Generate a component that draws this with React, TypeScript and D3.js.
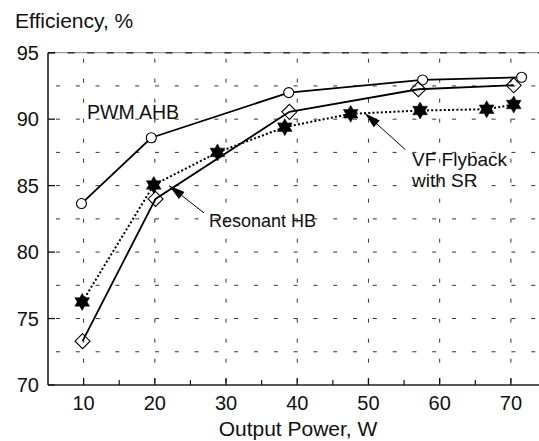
import React from "react";
import * as d3 from "d3";

const pwmX = [9.7, 19.5, 38.8, 57.6, 71.5];
const pwmY = [83.65, 88.6, 92.0, 92.95, 93.15];
const resX = [9.85, 20.1, 38.9, 57.0, 70.4];
const resY = [73.3, 84.0, 90.55, 92.25, 92.55];
const vfX = [9.8, 19.85, 28.8, 38.25, 47.5, 57.25, 66.6, 70.4];
const vfY = [76.25, 85.05, 87.5, 89.4, 90.4, 90.65, 90.75, 91.1];

const xTicks = [10, 20, 30, 40, 50, 60, 70];
const xMinor = [15, 25, 35, 45, 55, 65];
const yTicks = [70, 75, 80, 85, 90, 95];
const yGrid = [72.5, 75, 77.5, 80, 82.5, 85, 87.5, 90, 92.5];

const W = 539;
const H = 441;
const FONT = "'Liberation Sans', Arial, sans-serif";

function hexagram(cx: number, cy: number, R: number) {
  const r = R / Math.sqrt(3);
  const p = d3.path();
  for (let k = 0; k < 12; k++) {
    const a = ((-90 + k * 30) * Math.PI) / 180;
    const rr = k % 2 === 0 ? R : r;
    const px = cx + rr * Math.cos(a);
    const py = cy + rr * Math.sin(a);
    if (k === 0) p.moveTo(px, py);
    else p.lineTo(px, py);
  }
  p.closePath();
  return p.toString();
}

function arrowHead(x1: number, y1: number, x2: number, y2: number, len: number, half: number) {
  const dx = x2 - x1;
  const dy = y2 - y1;
  const d = Math.hypot(dx, dy);
  const ux = dx / d;
  const uy = dy / d;
  const bx = x2 - ux * len;
  const by = y2 - uy * len;
  const p = d3.path();
  p.moveTo(x2, y2);
  p.lineTo(bx - uy * half, by + ux * half);
  p.lineTo(bx + uy * half, by - ux * half);
  p.closePath();
  return p.toString();
}

export default function App() {
  const x = d3.scaleLinear().domain([5, 75]).range([48, 546.5]);
  const y = d3.scaleLinear().domain([70, 95]).range([385, 52.7]);
  const x0 = x(5);
  const x1 = W;
  const yTop = y(95);
  const yBot = y(70);

  const line = d3
    .line<[number, number]>()
    .x((d) => x(d[0]))
    .y((d) => y(d[1]));

  const pwm = pwmX.map((v, i) => [v, pwmY[i]] as [number, number]);
  const res = resX.map((v, i) => [v, resY[i]] as [number, number]);
  const vf = vfX.map((v, i) => [v, vfY[i]] as [number, number]);

  const resTip: [number, number] = [x(22.0), y(85.0)];
  const resTail: [number, number] = [x(26.9), y(82.95)];
  const vfTip: [number, number] = [x(49.5), y(90.45)];
  const vfTail: [number, number] = [x(55.2), y(87.7)];

  return (
    <svg width={W} height={H} style={{ position: "absolute", left: 0, top: 0 }} fontFamily={FONT}>
      <rect width={W} height={H} fill="white" />
      {yGrid.map((v) => (
        <line key={"hg" + v} x1={x0} x2={x1} y1={y(v)} y2={y(v)} stroke="#333" strokeWidth={1} strokeDasharray="4,15.8" strokeDashoffset={-8} />
      ))}
      {xTicks.map((v) => (
        <line key={"vg" + v} x1={x(v)} x2={x(v)} y1={yTop} y2={yBot} stroke="#333" strokeWidth={1} strokeDasharray="4,16" strokeDashoffset={-6} />
      ))}
      <line x1={x0} x2={x1} y1={yTop} y2={yTop} stroke="#999" strokeWidth={1.2} />
      <line x1={x0} x2={x1} y1={yTop} y2={yTop} stroke="#333" strokeWidth={1.6} strokeDasharray="7,12.6" />
      <line x1={x0} x2={x1} y1={yBot} y2={yBot} stroke="#222" strokeWidth={1.5} />
      <line x1={x0} x2={x0} y1={yTop} y2={yBot} stroke="#111" strokeWidth={1.5} />
      {yTicks.map((v) => (
        <line key={"yt" + v} x1={x0} x2={x0 + 7} y1={y(v)} y2={y(v)} stroke="#111" strokeWidth={1.3} />
      ))}
      {xTicks.map((v) => (
        <line key={"xt" + v} x1={x(v)} x2={x(v)} y1={yBot} y2={yBot - 7} stroke="#111" strokeWidth={1.3} />
      ))}
      {xMinor.map((v) => (
        <line key={"xm" + v} x1={x(v)} x2={x(v)} y1={yBot} y2={yBot - 5} stroke="#111" strokeWidth={1.2} />
      ))}
      {yTicks.map((v) => (
        <text key={"yl" + v} x={39} y={y(v)} dy="0.36em" textAnchor="end" fontSize={20} fill="#111">
          {v}
        </text>
      ))}
      {xTicks.map((v) => (
        <text key={"xl" + v} x={x(v)} y={410} textAnchor="middle" fontSize={20} fill="#111">
          {v}
        </text>
      ))}
      <text x={15} y={28} fontSize={21} fill="#111">Efficiency, %</text>
      <text x={298} y={435.5} textAnchor="middle" fontSize={21} fill="#111">Output Power, W</text>

      <path d={line(vf) || ""} fill="none" stroke="#000" strokeWidth={2} strokeDasharray="2,2.2" />
      <path d={line(res) || ""} fill="none" stroke="#000" strokeWidth={1.8} />
      <path d={line(pwm) || ""} fill="none" stroke="#000" strokeWidth={1.8} />

      {pwm.map((d, i) => (
        <circle key={"pc" + i} cx={x(d[0])} cy={y(d[1])} r={5} fill="white" stroke="#000" strokeWidth={1.1} />
      ))}
      {res.map((d, i) => {
        const cx = x(d[0]);
        const cy = y(d[1]);
        const s = 7.5;
        return (
          <path key={"rd" + i} d={`M${cx},${cy - s}L${cx + s},${cy}L${cx},${cy + s}L${cx - s},${cy}Z`} fill="none" stroke="#000" strokeWidth={1.1} />
        );
      })}
      {vf.map((d, i) => (
        <path key={"vs" + i} d={hexagram(x(d[0]), y(d[1]), 8.5)} fill="#000" stroke="#000" strokeWidth={0.5} />
      ))}

      <text x={87} y={119} fontSize={19.5} fill="#111">PWM AHB</text>
      <text x={209} y={227} fontSize={18} fill="#111">Resonant HB</text>
      <text x={412} y={166} fontSize={19} fill="#111">VF Flyback</text>
      <text x={412} y={187} fontSize={19} fill="#111">with SR</text>

      <line x1={resTail[0]} y1={resTail[1]} x2={resTip[0]} y2={resTip[1]} stroke="#000" strokeWidth={1} />
      <path d={arrowHead(resTail[0], resTail[1], resTip[0], resTip[1], 16, 4.5)} fill="#000" />
      <line x1={vfTail[0]} y1={vfTail[1]} x2={vfTip[0]} y2={vfTip[1]} stroke="#000" strokeWidth={1} />
      <path d={arrowHead(vfTail[0], vfTail[1], vfTip[0], vfTip[1], 16, 4.5)} fill="#000" />
    </svg>
  );
}
